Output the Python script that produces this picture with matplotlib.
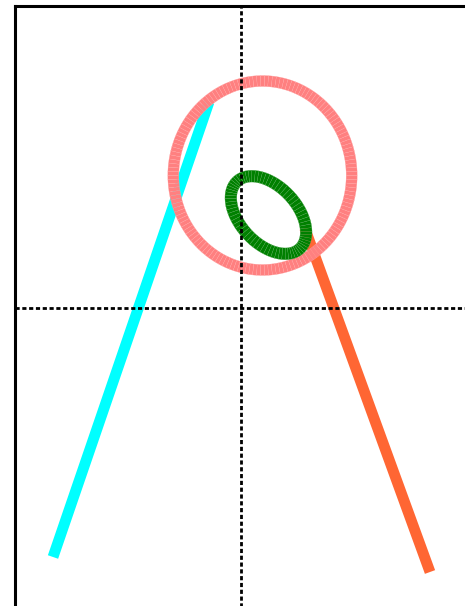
import numpy as np
import matplotlib
matplotlib.use("Agg")
import matplotlib.pyplot as plt
from matplotlib.collections import PolyCollection

# ---- data (axis units) ----
cyan_x = [-1.88, -0.32]
cyan_y = [-2.49, 2.06]
orange_x = [0.637, 1.89]
orange_y = [0.80, -2.64]

# ring shapes: centre, semi-axes, rotation (deg), segment count, ring width
pink_center = (0.215, 1.325)
pink_axes = (0.892, 0.945)
pink_angle = 0.0
pink_nseg = 150
pink_width = 0.11

green_center = (0.275, 0.93)
green_axes = (0.46, 0.285)
green_angle = -47.0
green_nseg = 72
green_width = 0.118

xlim = (-2.26, 2.26)
ylim = (-3.02, 3.02)


def ring_quads(center, axes, angle, n, width):
    t = np.linspace(0, 2 * np.pi, n + 1)
    a, b = axes
    th = np.deg2rad(angle)
    c, s = np.cos(th), np.sin(th)
    x = a * np.cos(t)
    y = b * np.sin(t)
    dx = -a * np.sin(t)
    dy = b * np.cos(t)
    xr = center[0] + x * c - y * s
    yr = center[1] + x * s + y * c
    tx = dx * c - dy * s
    ty = dx * s + dy * c
    nrm = np.hypot(tx, ty)
    nx, ny = ty / nrm, -tx / nrm
    h = width / 2
    ox, oy = xr + nx * h, yr + ny * h
    ix, iy = xr - nx * h, yr - ny * h
    quads = []
    for i in range(n):
        quads.append([(ox[i], oy[i]), (ox[i + 1], oy[i + 1]),
                      (ix[i + 1], iy[i + 1]), (ix[i], iy[i])])
    return quads


plt.rcParams['lines.scale_dashes'] = False
fig = plt.figure(figsize=(4.65, 6.06), dpi=100)
ax = fig.add_axes([15 / 465, -4 / 606, 452 / 465, 604 / 606])
ax.set_xlim(*xlim)
ax.set_ylim(*ylim)

ax.plot(cyan_x, cyan_y, color='#00FFFF', lw=7.8, solid_capstyle='butt', zorder=2)
ax.plot(orange_x, orange_y, color='#FF6633', lw=7.8, solid_capstyle='butt', zorder=2)

pink = PolyCollection(ring_quads(pink_center, pink_axes, pink_angle, pink_nseg, pink_width),
                      facecolors='#FF8080', edgecolors='#FFA4A4', linewidths=0.2, zorder=3)
ax.add_collection(pink)
green = PolyCollection(ring_quads(green_center, green_axes, green_angle, green_nseg, green_width),
                       facecolors='#008000', edgecolors='#4CA64C', linewidths=0.2, zorder=4)
ax.add_collection(green)

ax.axvline(0, color='black', lw=2.0, linestyle=(0, (3, 1.9)), zorder=5)
ax.axhline(0, color='black', lw=2.0, linestyle=(0, (3, 1.9)), zorder=5)

for s in ax.spines.values():
    s.set_linewidth(2.2)
    s.set_zorder(6)
ax.set_xticks([])
ax.set_yticks([])

fig.savefig('out.png', dpi=100)
